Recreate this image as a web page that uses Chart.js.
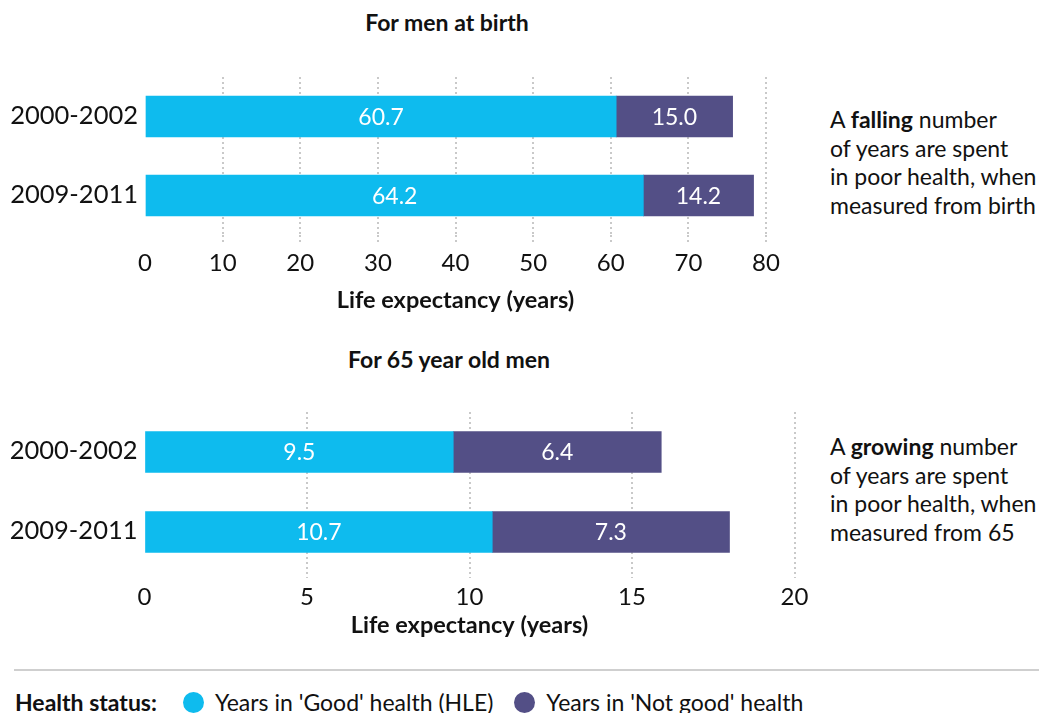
<!DOCTYPE html>
<html><head><meta charset="utf-8">
<script src="https://cdn.jsdelivr.net/npm/chart.js@4/dist/chart.umd.min.js"></script>
<style>
html,body{margin:0;padding:0;background:#fff;}
body{width:1039px;height:713px;overflow:hidden;position:relative;font-family:Lato,"Open Sans",sans-serif;color:#111;}
.ctitle{position:absolute;font-weight:bold;font-size:23px;transform:translate(-50%,-50%);white-space:nowrap;line-height:1;}
.note{position:absolute;left:830px;font-size:23px;line-height:28.5px;white-space:nowrap;}
canvas{position:absolute;left:0;}
#sep{position:absolute;left:14px;right:0;top:669px;height:0;border-top:2px solid #cfcfcf;}
#legend{position:absolute;left:15px;top:688px;font-size:23px;line-height:28px;white-space:nowrap;display:flex;align-items:center;}
#legend .lab{font-weight:bold;margin-right:26px;}
#legend .item{display:flex;align-items:center;margin-right:21px;}
#legend .dot{width:21px;height:21px;border-radius:50%;display:inline-block;margin-right:11px;}
</style>
</head><body>
<div class="ctitle" style="left:447px;top:22px">For men at birth</div>
<div class="ctitle" style="left:449px;top:359px">For 65 year old men</div>
<canvas id="c1" width="800" height="320" style="top:0"></canvas>
<canvas id="c2" width="830" height="320" style="top:330px"></canvas>
<div class="note" style="top:105px">A <b>falling</b> number<br>of years are spent<br>in poor health, when<br>measured from birth</div>
<div class="note" style="top:432px">A <b>growing</b> number<br>of years are spent<br>in poor health, when<br>measured from 65</div>
<div id="sep"></div>
<div id="legend"></div>
<script>
const categories = ['2000-2002', '2009-2011'];
const seriesNames = ["Years in 'Good' health (HLE)", "Years in 'Not good' health"];
const birthGood = [60.7, 64.2];
const birthNotGood = [15.0, 14.2];
const age65Good = [9.5, 10.7];
const age65NotGood = [6.4, 7.3];
const birthTicks = [0, 10, 20, 30, 40, 50, 60, 70, 80];
const age65Ticks = [0, 5, 10, 15, 20];
const axisTitle = 'Life expectancy (years)';
const legendTitle = 'Health status:';

const COLORS = ['#0ebbee', '#534f86'];
const FONT = 'Lato';

const valueLabels = {
  id: 'valueLabels',
  afterDatasetsDraw(chart) {
    const ctx = chart.ctx;
    ctx.save();
    ctx.font = '23px ' + FONT;
    ctx.fillStyle = '#ffffff';
    ctx.textAlign = 'center';
    ctx.textBaseline = 'middle';
    chart.data.datasets.forEach((ds, i) => {
      chart.getDatasetMeta(i).data.forEach((bar, j) => {
        const p = bar.getProps(['x', 'y', 'base'], true);
        ctx.fillText(ds.data[j].toFixed(1), (p.x + p.base) / 2, p.y + 1);
      });
    });
    ctx.restore();
  }
};

function makeChart(id, good, notGood, ticks, cfg) {
  return new Chart(document.getElementById(id), {
    type: 'bar',
    data: {
      labels: categories,
      datasets: [
        {label: seriesNames[0], data: good, backgroundColor: COLORS[0]},
        {label: seriesNames[1], data: notGood, backgroundColor: COLORS[1]}
      ]
    },
    options: {
      indexAxis: 'y',
      responsive: false,
      animation: false,
      events: [],
      layout: {padding: {top: cfg.top, right: cfg.right, left: 0, bottom: 0}},
      plugins: {legend: {display: false}, tooltip: {enabled: false}, title: {display: false}},
      datasets: {bar: {barThickness: 41, borderWidth: 0}},
      scales: {
        x: {
          stacked: true,
          min: ticks[0],
          max: ticks[ticks.length - 1],
          afterBuildTicks(scale) { scale.ticks = ticks.map(v => ({value: v})); },
          afterFit(scale) { scale.height = cfg.xHeight; },
          border: {display: false, dash: [2, 3]},
          grid: {
            color: c => (c.tick && c.tick.value === 0) ? 'rgba(0,0,0,0)' : '#c9c9c9',
            tickColor: c => (c.tick && c.tick.value === 0) ? 'rgba(0,0,0,0)' : '#c9c9c9',
            lineWidth: 2,
            tickWidth: 2,
            tickLength: cfg.tickLength,
            tickBorderDash: [2, 3],
            drawTicks: true
          },
          ticks: {
            color: '#111',
            font: {family: FONT, size: 24, lineHeight: 1},
            padding: cfg.tickPad,
            maxRotation: 0,
            autoSkip: false
          },
          title: {
            display: true,
            text: axisTitle,
            color: '#111',
            font: {family: FONT, size: 23.5, weight: 'bold', lineHeight: 1},
            padding: {top: 0, bottom: cfg.titlePadBottom}
          }
        },
        y: {
          stacked: true,
          afterFit(scale) { scale.width = cfg.left; },
          border: {display: false},
          grid: {display: false, drawTicks: false},
          ticks: {
            color: '#111',
            font: {family: FONT, size: 25.5},
            padding: 7,
            labelOffset: -1
          }
        }
      }
    },
    plugins: [valueLabels]
  });
}

makeChart('c1', birthGood, birthNotGood, birthTicks, {top: 77, right: 34, left: 145, xHeight: 85, tickLength: 7, tickPad: 9, titlePadBottom: 8.25});
makeChart('c2', age65Good, age65NotGood, age65Ticks, {top: 82, right: 35.5, left: 144.5, xHeight: 78, tickLength: 6, tickPad: 7, titlePadBottom: 13.25});

const legend = document.getElementById('legend');
const lt = document.createElement('span');
lt.className = 'lab';
lt.textContent = legendTitle;
legend.appendChild(lt);
seriesNames.forEach((n, i) => {
  const it = document.createElement('span');
  it.className = 'item';
  const d = document.createElement('span');
  d.className = 'dot';
  d.style.background = COLORS[i];
  it.appendChild(d);
  it.appendChild(document.createTextNode(n));
  legend.appendChild(it);
});
</script>
</body></html>
